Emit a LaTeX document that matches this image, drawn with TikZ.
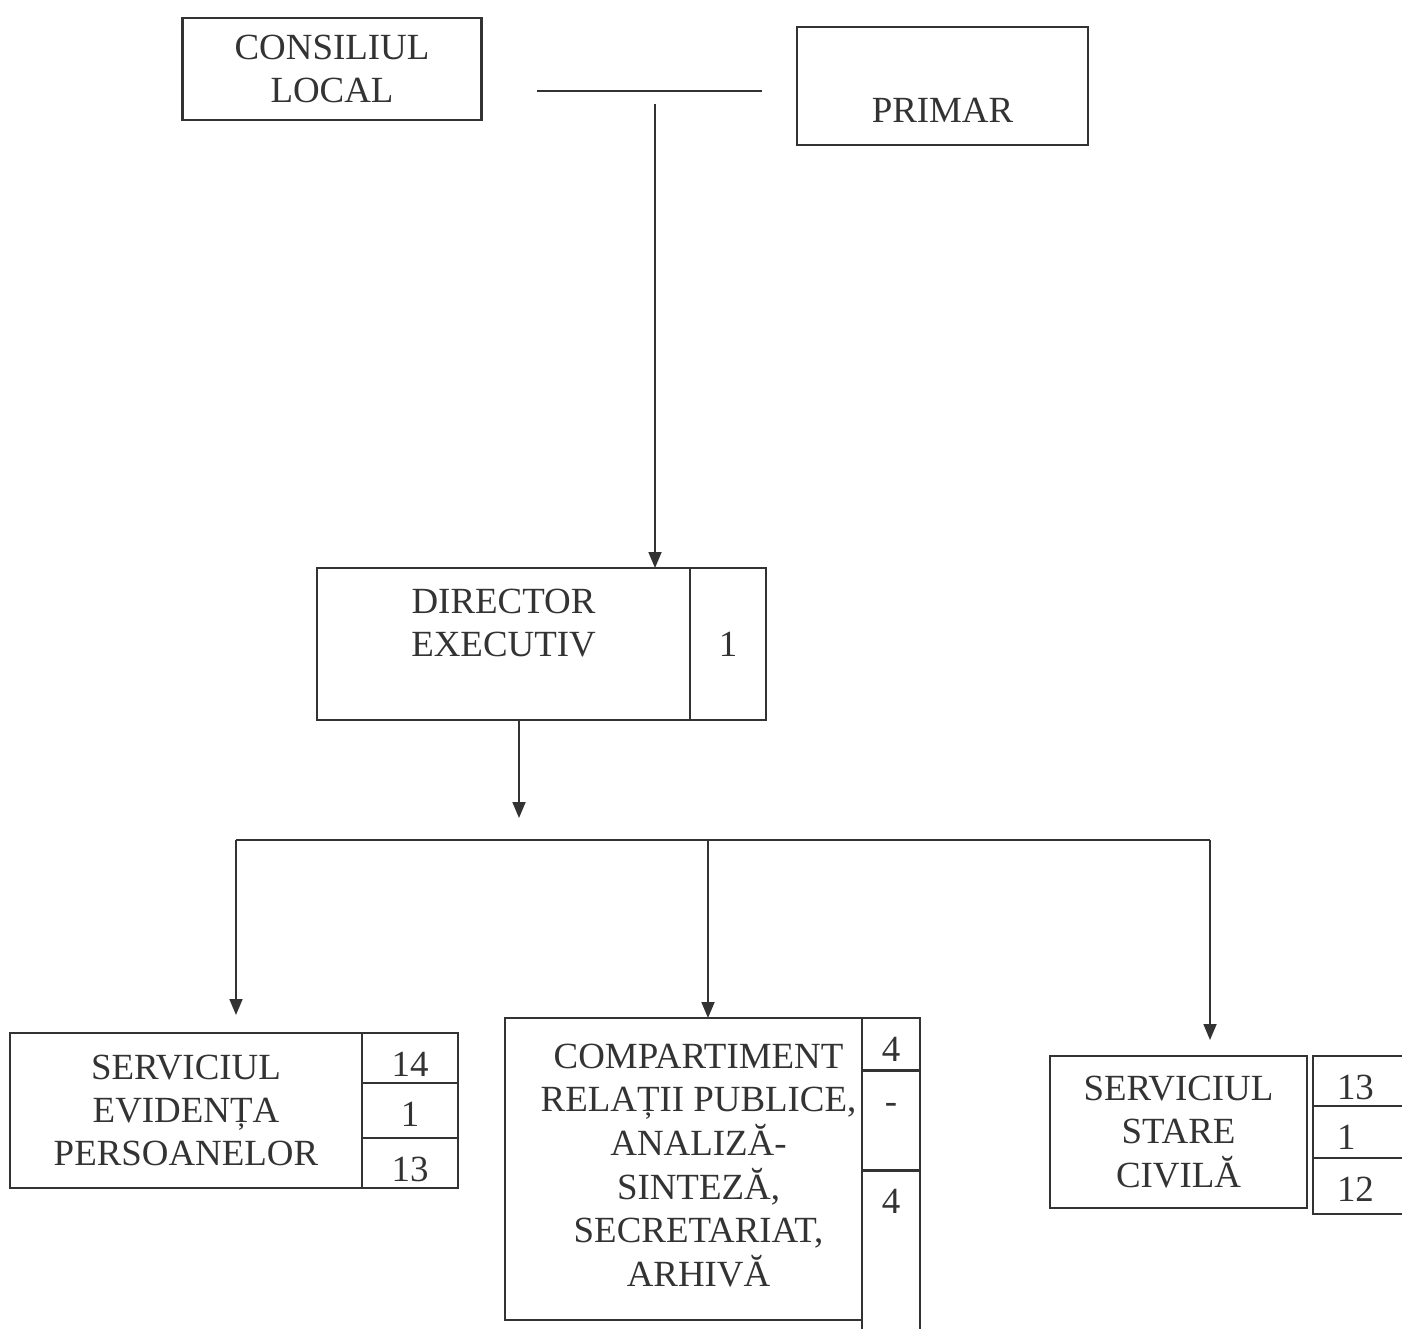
\documentclass[tikz,border=0pt]{standalone}
\usepackage{fontspec}
\setmainfont{Liberation Serif}
\usetikzlibrary{arrows.meta, positioning}
\definecolor{cerneala}{gray}{0.2}
\tikzset{
    %Define standard arrow tip
    >={Triangle[length=0.32cm,width=0.26cm]},
    %Define style for boxes
    cutie/.style={
           rectangle,
           draw=cerneala, line width=1.4pt,
           text=cerneala,
           align=center,
           inner sep=0pt,
           outer sep=0pt,
           font=\fontsize{21}{24.5}\selectfont},
    %Define style for number cells (text near the top)
    celula/.style={
           cutie,
           anchor=north west,
           text height=0.86cm,
           text depth=#1},
    % Define line and arrow styles
    linie/.style={
           draw=cerneala,
           line width=1pt},
    sageata/.style={
           linie,
           ->}
}

\begin{document}
\begin{tikzpicture}
\useasboundingbox (0,0) rectangle (28.04,-26.56);
\clip (0,0) rectangle (28.04,-26.56);

% Top level
\node[cutie, minimum width=5.98cm, minimum height=2.04cm] (consiliu) at (6.64,-1.38) {CONSILIUL\\LOCAL};
\node[cutie, minimum width=5.82cm, minimum height=2.36cm] (primar) at (18.85,-1.72) {\strut\\PRIMAR};
\coordinate (bara1) at (10.74,-1.82);
\coordinate (bara2) at (15.24,-1.82);
\coordinate (coborire) at (13.1,-2.08);

% Director
\node[cutie, minimum width=7.46cm, minimum height=3.04cm] (director) at (10.07,-12.88) {DIRECTOR\\EXECUTIV\\\mbox{}};
\node[cutie, minimum width=1.52cm, minimum height=3.04cm, anchor=west] (dirnr) at (director.east) {1};

% Bus
\coordinate (varf) at (10.38,-16.36);
\coordinate (busst) at (4.72,-16.8);
\coordinate (busmij) at (14.16,-16.8);
\coordinate (busdr) at (24.2,-16.8);

% Services
\node[cutie, minimum width=7.04cm, minimum height=3.1cm] (evidenta) at (3.72,-22.21) {SERVICIUL\\EVIDENȚA\\PERSOANELOR};
\node[celula=0.14cm, minimum width=1.92cm] (ev1) at (evidenta.north east) {14};
\node[celula=0.24cm, minimum width=1.92cm] (ev2) at (ev1.south west) {1};
\node[celula=0.14cm, minimum width=1.92cm] (ev3) at (ev2.south west) {13};

\node[cutie, minimum width=7.14cm, minimum height=6.04cm] (relatii) at (13.67,-23.38) {\hspace*{0.6cm}\begin{tabular}{@{}c@{}}COMPARTIMENT\\RELAȚII PUBLICE,\\ANALIZĂ-\\SINTEZĂ,\\SECRETARIAT,\\ARHIVĂ\end{tabular}};
\node[celula=0.19cm, minimum width=1.16cm] (rp1) at (relatii.north east) {4};
\node[celula=1.14cm, minimum width=1.16cm] (rp2) at (rp1.south west) {-};
\node[celula=2.34cm, minimum width=1.16cm] (rp3) at (rp2.south west) {4};

\node[cutie, minimum width=5.14cm, minimum height=3.04cm] (stare) at (23.57,-22.64) {SERVICIUL\\STARE\\CIVILĂ};
\node[celula=0.14cm, right=0.12cm of stare.north east, anchor=north west, align=left, inner xsep=0.48cm, text width=0.94cm] (sc1) {13};
\node[celula=0.18cm, align=left, inner xsep=0.48cm, text width=0.94cm] (sc2) at (sc1.south west) {1};
\node[celula=0.26cm, align=left, inner xsep=0.48cm, text width=0.94cm] (sc3) at (sc2.south west) {12};

\path
% top links
(bara1) edge[linie] (bara2)
(coborire) edge[sageata] (coborire |- director.north)
% director to bus
([xshift=0.31cm]director.south) edge[sageata] (varf)
(busst) edge[linie] (busdr)
% bus to services
(busst) edge[sageata, shorten >=0.36cm] (busst |- evidenta.north)
(busmij) edge[sageata] (busmij |- relatii.north)
(busdr) edge[sageata, shorten >=0.32cm] (busdr |- stare.north);

\end{tikzpicture}
\end{document}
